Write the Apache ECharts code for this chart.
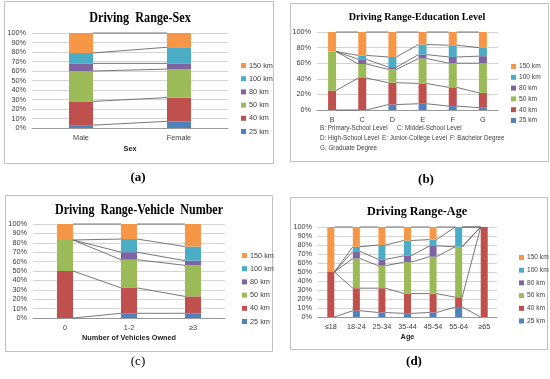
<!DOCTYPE html>
<html><head><meta charset="utf-8">
<script src="https://cdn.jsdelivr.net/npm/echarts@6/dist/echarts.min.js"></script>
<style>html,body{margin:0;padding:0;background:#fff}#c{width:550px;height:379px}</style>
</head><body><div id="c"></div>
<script>
// ---- data ----
const rangeNames = ['25 km','40 km','50 km','80 km','100 km','150 km'];

const sexCats = ['Male','Female'];
const sex25 = [3,7];
const sex40 = [25,25];
const sex50 = [32,30];
const sex80 = [8,6];
const sex100 = [11,17];
const sex150 = [21,15];

const eduCats = ['B','C','D','E','F','G'];
const edu25 = [0,0,7,8,5,3];
const edu40 = [25,41,28,26,24,19];
const edu50 = [50,18,17,32,31,38];
const edu80 = [0,6,3,5,8,9];
const edu100 = [0,5,13,13,15,11];
const edu150 = [25,30,32,16,17,20];

const vehCats = ['0','1-2','≥3'];
const veh25 = [0,5,5];
const veh40 = [50,27,18];
const veh50 = [33,30,33];
const veh80 = [0,8,5];
const veh100 = [0,14,15];
const veh150 = [17,16,24];

const ageCats = ['≤18','18-24','25-34','35-44','45-54','55-64','≥65'];
const age25 = [0,7,5,4,5,11,0];
const age40 = [50,25,27,22,21,11,100];
const age50 = [0,33,25,35,41,56,0];
const age80 = [0,8,7,7,12,0,0];
const age100 = [0,5,16,17,7,22,0];
const age150 = [50,22,20,15,14,0,0];

const pctTicks = ['0%','10%','20%','30%','40%','50%','60%','70%','80%','90%','100%'];

// ---- styles ----
const colors = ['#4F81BD','#C0504D','#9BBB59','#8064A2','#4BACC6','#F79646'];
const sansFont = '"Liberation Sans", Arial, sans-serif';
const serifFont = '"Liberation Serif", "Times New Roman", serif';

const panels = [
  {cats: sexCats, vals: [sex25,sex40,sex50,sex80,sex100,sex150],
   grid: {left:32, right:322, top:33, bottom:251}, interval:10, barW:24, axisName:'Sex', nameGap:17,
   legend: {left:236, top:56, gap:4.2, fs:7.3}},
  {cats: eduCats, vals: [edu25,edu40,edu50,edu80,edu100,edu150],
   grid: {left:317, right:52, top:32, bottom:269}, interval:20, barW:8, axisName:'', nameGap:0,
   legend: {left:506, top:57, gap:1.8, fs:6.6}},
  {cats: vehCats, vals: [veh25,veh40,veh50,veh80,veh100,veh150],
   grid: {left:33, right:325, top:224, bottom:61}, interval:10, barW:16, axisName:'Number of Vehicles Owned', nameGap:16,
   legend: {left:237, top:246, gap:4.2, fs:7.3}},
  {cats: ageCats, vals: [age25,age40,age50,age80,age100,age150],
   grid: {left:318, right:53, top:227, bottom:62}, interval:10, barW:7, axisName:'Age', nameGap:16,
   legend: {left:514, top:248, gap:3.7, fs:6.6}}
];

const option = {
  animation:false,
  backgroundColor:'#fff',
  color: colors,
  grid: [], xAxis: [], yAxis: [], series: [], legend: [],
  graphic: []
};

panels.forEach((p, pi) => {
  option.grid.push(Object.assign({containLabel:false}, p.grid));
  option.xAxis.push({
    type:'category', gridIndex:pi, data:p.cats,
    axisLine:{lineStyle:{color:'#999', width:1}}, axisTick:{show:false},
    axisLabel:{fontSize:7.3, color:'#404040', fontFamily:sansFont, margin:6, interval:0},
    name:p.axisName, nameLocation:'middle', nameGap:p.nameGap,
    nameTextStyle:{fontSize:7.3, fontWeight:'bold', color:'#222', fontFamily:sansFont}
  });
  option.yAxis.push({
    type:'value', gridIndex:pi, min:0, max:100, interval:p.interval,
    axisLine:{show:false}, axisTick:{show:false},
    splitLine:{lineStyle:{color:'#d4d4d4', width:1}},
    axisLabel:{fontSize:7.3, color:'#404040', fontFamily:sansFont, margin:6,
      formatter: v => pctTicks[Math.round(v/10)]}
  });
  p.vals.forEach((arr, k) => {
    option.series.push({
      type:'bar', name:rangeNames[k], xAxisIndex:pi, yAxisIndex:pi, stack:'s'+pi,
      data:arr, barWidth:p.barW, itemStyle:{color:colors[k]}, z:2
    });
  });
  // cumulative tops
  const n = p.cats.length;
  const cum = [];
  for (let i=0;i<n;i++){ let s=0; const row=[]; for (let k=0;k<6;k++){ s+=p.vals[k][i]; row.push(s);} cum.push(row); }
  const lineData = [];
  for (let i=0;i<n-1;i++) lineData.push([i].concat(cum[i], cum[i+1]));
  const half = p.barW/2;
  option.series.push({
    type:'custom', name:'series lines '+pi, xAxisIndex:pi, yAxisIndex:pi, z:3,
    encode:{x:0, y:1},
    data: lineData,
    renderItem: function(params, api){
      const i = api.value(0);
      const ch = [];
      for (let k=0;k<6;k++){
        const a = api.coord([i, api.value(1+k)]);
        const b = api.coord([i+1, api.value(7+k)]);
        ch.push({type:'line', shape:{x1:a[0]+half, y1:a[1], x2:b[0]-half, y2:b[1]},
          style:{stroke:'#555', lineWidth:0.8}});
      }
      return {type:'group', children:ch};
    }
  });
  option.legend.push({
    orient:'vertical', left:p.legend.left, top:p.legend.top, itemGap:p.legend.gap,
    itemWidth:5, itemHeight:5, icon:'rect',
    data: rangeNames.slice().reverse(),
    textStyle:{fontSize:p.legend.fs, color:'#404040', fontFamily:sansFont, lineHeight:9, padding:[0,0,0,-2]},
    selectedMode:false
  });
});

function txt(x, y, text, size, weight, family, sx, color){
  return {type:'text', x:x, y:y, scaleX:sx||1, silent:true, z:10,
    style:{text:text, fontSize:size, fontWeight:weight, fontFamily:family, fill:color||'#000',
      align:'center', verticalAlign:'middle', textAlign:'center', textVerticalAlign:'middle'}};
}
function ltxt(x, y, text){
  return {type:'text', x:x, y:y, silent:true, z:10,
    style:{text:text, fontSize:6.3, fontFamily:sansFont, fill:'#404040',
      align:'left', verticalAlign:'middle', textAlign:'left', textVerticalAlign:'middle'}};
}
function box(x,y,w,h){
  return {type:'rect', shape:{x:x,y:y,width:w,height:h}, silent:true, z:0,
    style:{fill:null, stroke:'#c0c0c0', lineWidth:1}};
}

option.graphic = [
  box(4.5,1.5,269,162), box(290.5,3.5,258,158), box(5.5,195.5,267,156), box(290.5,197.5,257,152),
  txt(140,18,'Driving  Range-Sex',14,'bold',serifFont,0.87),
  txt(417,17,'Driving Range-Education Level',10.5,'bold',serifFont,0.96),
  txt(139,210,'Driving  Range-Vehicle  Number',14,'bold',serifFont,0.86),
  txt(417,212,'Driving Range-Age',13.5,'bold',serifFont,0.9),
  ltxt(320,128,'B: Primary-School Level'), ltxt(397,128,'C: Middel-School Level'),
  ltxt(320,138,'D: High-School Level'), ltxt(382,138,'E: Junior-College Level'), ltxt(450,138,'F: Bachelor Degree'),
  ltxt(320,148,'G: Graduate Degree'),
  txt(138,178,'(a)',13,'bold',serifFont,1),
  txt(426,180,'(b)',13,'bold',serifFont,1),
  txt(138,362,'(c)',13,'normal',serifFont,1),
  txt(414,362,'(d)',13,'bold',serifFont,1)
];

const chart = echarts.init(document.getElementById('c'), null, {renderer:'canvas'});
chart.setOption(option);
</script>
</body></html>
